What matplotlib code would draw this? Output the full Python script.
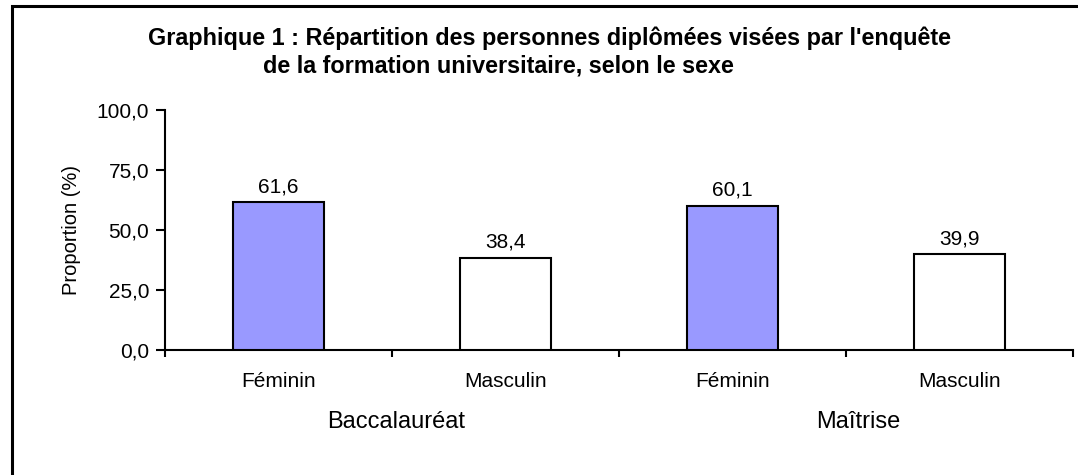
import matplotlib
matplotlib.use('Agg')
import matplotlib.pyplot as plt
import matplotlib.transforms as mtransforms
from matplotlib.patches import Rectangle

plt.rcParams['font.family'] = ['Liberation Sans', 'DejaVu Sans']

# Data
groups = ['Baccalauréat', 'Maîtrise']
sexes = ['Féminin', 'Masculin']
values = [61.6, 38.4, 60.1, 39.9]   # Bacc F, Bacc M, Maîtrise F, Maîtrise M
sex_colors = ['#9999FF', 'white']
yticks = [0, 25, 50, 75, 100]

title1 = "Graphique 1 : Répartition des personnes diplômées visées par l'enquête"
title2 = "de la formation universitaire, selon le sexe"

W, H = 1078, 475
fig = plt.figure(figsize=(W / 100, H / 100), dpi=100)
ax = fig.add_axes([165 / W, 1 - 350 / H, (1073 - 165) / W, 240 / H])

n = len(values)
xpos = [i + 0.5 for i in range(n)]
labels = [sexes[i % 2] for i in range(n)]
colors = [sex_colors[i % 2] for i in range(n)]

ax.bar(xpos, values, width=0.4, color=colors, edgecolor='black', linewidth=1.5, zorder=3)
for x, v in zip(xpos, values):
    ax.annotate(f"{v:.1f}".replace('.', ','), xy=(x, v), xytext=(0, 7.2),
                textcoords='offset points', ha='center', va='baseline', fontsize=15)

ax.set_xlim(0, n)
ax.set_ylim(0, 100)
ax.set_yticks(yticks)
ax.set_yticklabels([f"{t:.1f}".replace('.', ',') for t in yticks], fontsize=15)
ax.set_xticks(range(n + 1))
ax.set_xticklabels([])
ax.set_xticks(xpos, minor=True)
ax.set_xticklabels(labels, minor=True, fontsize=15)
ax.tick_params(axis='x', which='major', direction='out', length=5, width=1.5)
ax.tick_params(axis='x', which='minor', length=0, pad=15.5)
ax.tick_params(axis='y', direction='out', length=6.5, width=1.5, pad=5)
ax.set_ylabel('Proportion (%)', fontsize=14.5, labelpad=11)

for s in ['top', 'right']:
    ax.spines[s].set_visible(False)
for s in ['left', 'bottom']:
    ax.spines[s].set_linewidth(1.5)

# group labels under each pair of bars
trans = mtransforms.blended_transform_factory(ax.transData, fig.transFigure)
group_shift = [4, 12]  # px, the original labels sit slightly right of centre
for g, name in enumerate(groups):
    ax.annotate(name, xy=(2 * g + 1, 1 - 428 / H), xycoords=trans,
                xytext=(group_shift[g] * 0.72, 0), textcoords='offset points',
                ha='center', va='baseline', fontsize=17, annotation_clip=False)

fig.text(550 / W, 1 - 45 / H, title1, ha='center', va='baseline', fontsize=16.8, fontweight='bold')
fig.text(498 / W, 1 - 73 / H, title2, ha='center', va='baseline', fontsize=16.8, fontweight='bold')

# outer frame (cut by the image edges on the right and bottom)
fig.patches.append(Rectangle((12 / W, -0.1), 1.2, 1.1 - 6 / H, transform=fig.transFigure,
                             fill=False, edgecolor='black', linewidth=2.2))

fig.savefig('out.png', dpi=100)
